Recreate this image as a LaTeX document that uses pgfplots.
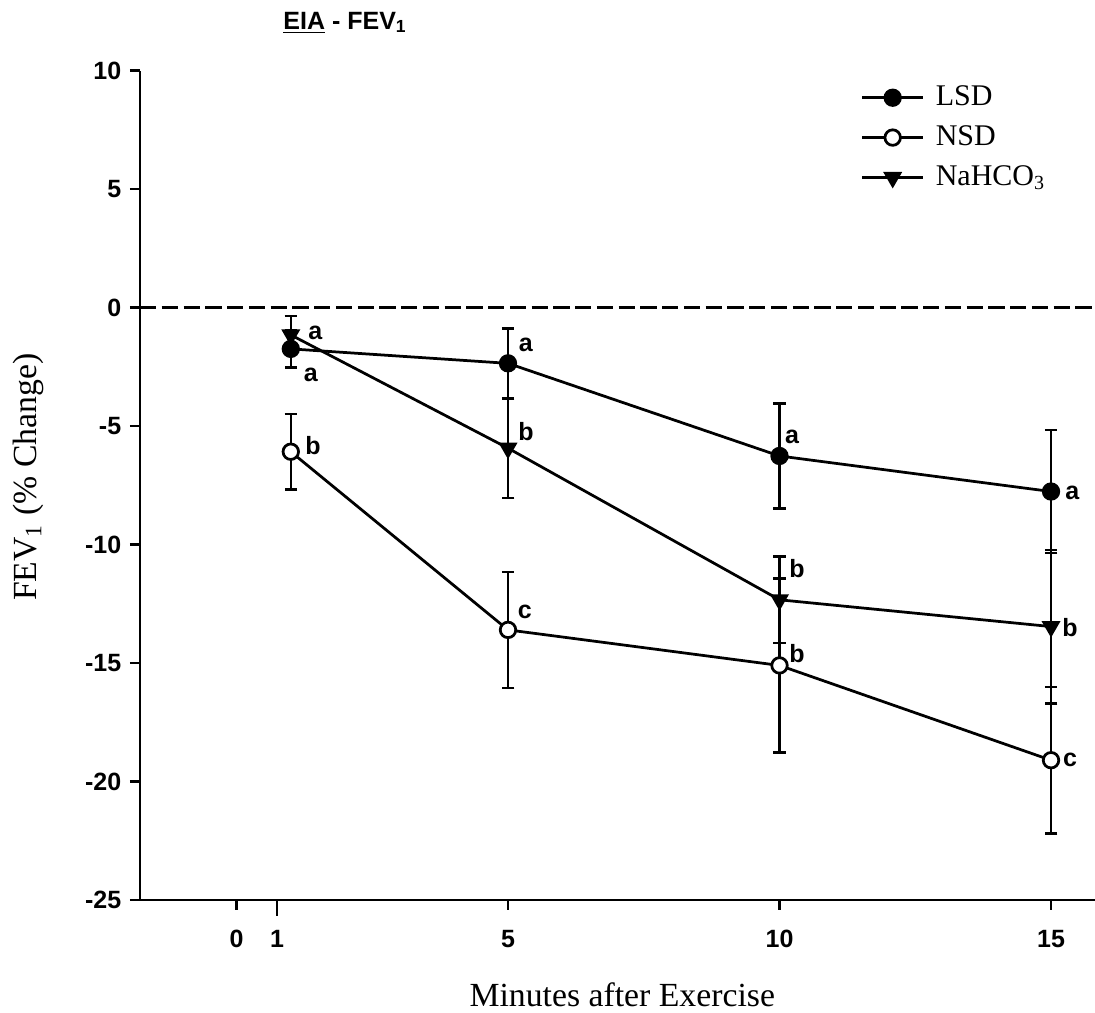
\documentclass[border=0pt]{standalone}
\usepackage{fontspec}
\setmainfont{Liberation Serif}
\newfontfamily\arial{Liberation Sans}
\usepackage{pgfplots}
\pgfplotsset{compat=1.18}

\begin{document}
\begin{tikzpicture}
\begin{axis}[
    scale only axis,
    width=382pt, height=331.7pt,
    xmin=-1.777, xmax=15.81,
    ymin=-25, ymax=10,
    axis lines=left,
    axis line style={-, line width=1.1pt},
    tick align=outside,
    major tick length=4pt,
    tick style={line width=1pt, black},
    xtick={0,5,10,15}, xticklabels={0,5,10,15},
    extra x ticks={0.746}, extra x tick labels={1},
    extra x tick style={major tick length=6.3pt, xticklabel style={yshift=2.2pt}},
    ytick={-25,-20,...,10},
    yticklabels={-25,-20,-15,-10,-5,0,5,10},
    ticklabel style={font=\arial\bfseries\fontsize{10}{12}\selectfont},
    xticklabel style={yshift=-4.5pt},
    xlabel={Minutes after Exercise},
    ylabel={FEV\textsubscript{1} (\% Change)},
    label style={font=\fontsize{13.5}{16}\selectfont},
    xlabel style={at={(axis description cs:0.505,-0.1145)}, anchor=center},
    ylabel style={at={(axis description cs:-0.1173,0.51)}, anchor=center},
    clip=false,
    legend style={at={(axis cs:11.35,9.75)}, anchor=north west, draw=none, fill=none,
        font=\fontsize{12}{14}\selectfont, row sep=3.5pt, column sep=3pt,
        nodes={inner sep=1.5pt}},
    legend cell align=left,
    legend image code/.code={\draw[mark repeat=2,mark phase=2]
        plot coordinates {(0pt,0pt) (12.2pt,0pt) (24.4pt,0pt)};},
]
\addplot[black, line width=1pt, dash pattern=on 6.5pt off 2.2pt, forget plot]
    coordinates {(-1.777,0) (15.81,0)};

% LSD
\addplot[black, line width=1.1pt, mark=*, mark size=3.1pt, mark options={solid, fill=black},
    error bars/.cd, y dir=both, y explicit,
    error bar style={line width=1pt},
    error mark options={black, rotate=90, mark size=2.5pt, line width=1pt}]
coordinates {
    (1,-1.74) +- (0,0.78)
    (5,-2.35) +- (0,1.48)
    (10,-6.26) +- (0,2.22)
    (15,-7.76) +- (0,2.6)
};
\addlegendentry{LSD}

% NSD
\addplot[black, line width=1.1pt, mark=*, mark size=3.1pt, mark options={solid, fill=white},
    error bars/.cd, y dir=both, y explicit,
    error bar style={line width=1pt},
    error mark options={black, rotate=90, mark size=2.5pt, line width=1pt}]
coordinates {
    (1,-6.08) +- (0,1.6)
    (5,-13.6) +- (0,2.45)
    (10,-15.1) +- (0,3.67)
    (15,-19.1) +- (0,3.1)
};
\addlegendentry{NSD}

% NaHCO3
\addplot[black, line width=1.1pt, mark=triangle*, mark size=3.3pt,
    mark options={solid, fill=black, rotate=180},
    error bars/.cd, y dir=both, y explicit,
    error bar style={line width=1pt},
    error mark options={black, rotate=90, mark size=2.5pt, line width=1pt}]
coordinates {
    (1,-1.15) +- (0,0.8)
    (5,-5.93) +- (0,2.1)
    (10,-12.33) +- (0,1.83)
    (15,-13.46) +- (0,3.24)
};
\addlegendentry{NaHCO\textsubscript{3}}

\begin{scope}[font=\arial\bfseries\fontsize{10}{12}\selectfont]
\node at (axis cs:1.37,-2.83) {a};
\node at (axis cs:1.45,-1.07) {a};
\node at (axis cs:1.41,-5.8) {b};
\node at (axis cs:5.33,-1.57) {a};
\node at (axis cs:5.33,-5.24) {b};
\node at (axis cs:5.31,-12.84) {c};
\node at (axis cs:10.23,-5.46) {a};
\node at (axis cs:10.32,-11.0) {b};
\node at (axis cs:10.32,-14.6) {b};
\node at (axis cs:15.39,-7.82) {a};
\node at (axis cs:15.35,-13.5) {b};
\node at (axis cs:15.35,-19.08) {c};
\end{scope}
\node[font=\arial\bfseries\fontsize{10}{12}\selectfont, anchor=west, inner sep=0pt]
    at (axis description cs:0.1497,1.0575) {\underline{EIA} - FEV\textsubscript{1}};
\end{axis}
\pgfresetboundingbox
\path[use as bounding box] ([xshift=-56pt,yshift=-45.2pt]current axis.south west)
    rectangle ([yshift=28.3pt]current axis.north east);
\end{tikzpicture}
\end{document}
